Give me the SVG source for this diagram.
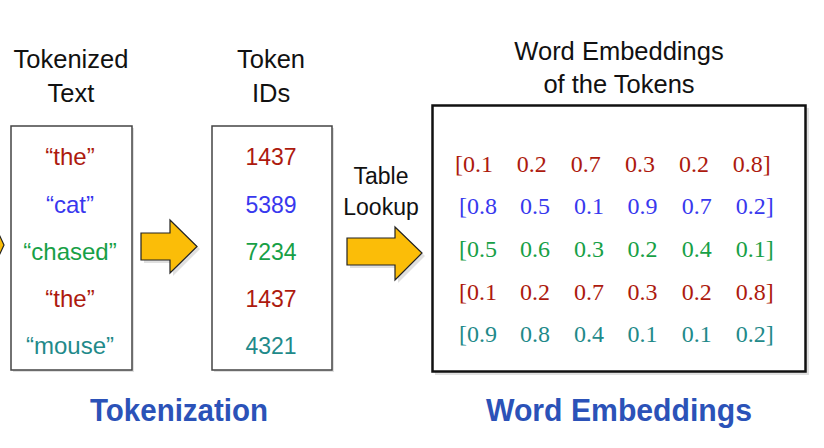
<svg xmlns="http://www.w3.org/2000/svg" width="824" height="448" viewBox="0 0 824 448">
<style>
.t{font-family:"Liberation Sans",Arial,sans-serif;fill:#111;text-anchor:middle}
.h{font-size:25.5px}
.w{font-size:24px}
.n{font-size:23px}
.s{font-family:"Liberation Serif","Times New Roman",serif;font-size:24px}
.r{fill:#ad1a0e}.b{fill:#3838ee}.g{fill:#17a046}.c{fill:#1f8a8a}
.box{fill:#fff;stroke:#444;stroke-width:1.5}
.sh{fill:#000;opacity:0.12}
.arr{fill:#fbbd08;stroke:#222;stroke-width:1.2;stroke-linejoin:miter}
.big{font-family:"Liberation Sans",Arial,sans-serif;font-weight:bold;font-size:31px;fill:#2b52b8;text-anchor:middle}
</style>
<rect width="824" height="448" fill="#fff"/>

<g id="title-tokenized">
<text class="t h" x="71" y="68">Tokenized</text>
<text class="t h" x="71" y="102">Text</text>
</g>
<g id="title-ids">
<text class="t h" x="271" y="68">Token</text>
<text class="t h" x="271" y="102">IDs</text>
</g>
<g id="title-emb">
<text class="t h" x="619" y="60">Word Embeddings</text>
<text class="t h" x="619" y="93">of the Tokens</text>
</g>

<g id="connectors">
<path class="arr" d="M-10,238 L-2,238 L-2,232 L4,245 L-2,258 L-2,252 L-10,252 Z"/>
<path class="sh" d="M144,236 L173,236 L173,223 L200,249 L173,276 L173,263 L144,263 Z"/>
<path class="arr" d="M141,233 L170,233 L170,220 L197,246.5 L170,273 L170,260 L141,260 Z"/>
<text class="t n" x="381" y="184">Table</text>
<text class="t n" x="381" y="215">Lookup</text>
<path class="sh" d="M350,241 L398,241 L398,230 L425,256 L398,283 L398,268 L350,268 Z"/>
<path class="arr" d="M347,238 L395,238 L395,227 L422,253 L395,280 L395,265 L347,265 Z"/>
</g>

<g id="node-tokenized-text">
<rect class="sh" x="13" y="128" width="121" height="244"/>
<rect class="box" x="11" y="126" width="121" height="244"/>
<text class="t w" x="70" y="165"><tspan class="r">“the”</tspan></text>
<text class="t w" x="70" y="213"><tspan class="b">“cat”</tspan></text>
<text class="t w" x="70" y="260"><tspan class="g">“chased”</tspan></text>
<text class="t w" x="70" y="307"><tspan class="r">“the”</tspan></text>
<text class="t w" x="70" y="354"><tspan class="c">“mouse”</tspan></text>
</g>

<g id="node-token-ids">
<rect class="sh" x="214" y="128" width="120" height="244"/>
<rect class="box" x="212" y="126" width="120" height="244"/>
<text class="t n r" x="271" y="165">1437</text>
<text class="t n b" x="271" y="213">5389</text>
<text class="t n g" x="271" y="260">7234</text>
<text class="t n r" x="271" y="307">1437</text>
<text class="t n c" x="271" y="354">4321</text>
</g>

<g id="node-embeddings">
<rect class="sh" x="435" y="108" width="374" height="267"/>
<rect x="432.5" y="105.5" width="373" height="266" fill="#fff" stroke="#111" stroke-width="2.5"/>
<g class="s r">
<text x="455" y="172">[0.1</text><text x="516.7" y="172">0.2</text><text x="570.7" y="172">0.7</text><text x="625" y="172">0.3</text><text x="679" y="172">0.2</text><text x="732.7" y="172">0.8]</text>
</g>
<g class="s b">
<text x="459" y="214">[0.8</text><text x="520" y="214">0.5</text><text x="574" y="214">0.1</text><text x="627.5" y="214">0.9</text><text x="681.7" y="214">0.7</text><text x="735.7" y="214">0.2]</text>
</g>
<g class="s g">
<text x="459" y="257">[0.5</text><text x="520" y="257">0.6</text><text x="574" y="257">0.3</text><text x="627.5" y="257">0.2</text><text x="681.7" y="257">0.4</text><text x="735.7" y="257">0.1]</text>
</g>
<g class="s r">
<text x="459" y="299.5">[0.1</text><text x="520" y="299.5">0.2</text><text x="574" y="299.5">0.7</text><text x="627.5" y="299.5">0.3</text><text x="681.7" y="299.5">0.2</text><text x="735.7" y="299.5">0.8]</text>
</g>
<g class="s c">
<text x="459" y="342">[0.9</text><text x="520" y="342">0.8</text><text x="574" y="342">0.4</text><text x="627.5" y="342">0.1</text><text x="681.7" y="342">0.1</text><text x="735.7" y="342">0.2]</text>
</g>
</g>

<g id="label-tokenization">
<text class="big" x="179" y="421" textLength="178" lengthAdjust="spacingAndGlyphs">Tokenization</text>
</g>
<g id="label-word-embeddings">
<text class="big" x="619" y="421" textLength="266" lengthAdjust="spacingAndGlyphs">Word Embeddings</text>
</g>
</svg>
